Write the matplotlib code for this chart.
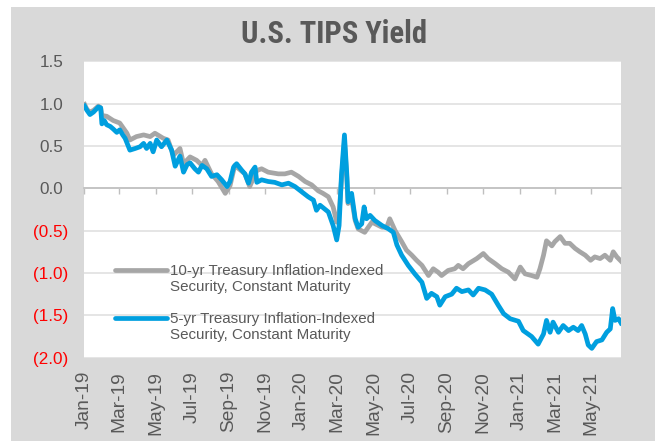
import matplotlib
matplotlib.use("Agg")
import matplotlib.pyplot as plt
import matplotlib.transforms as mtransforms
from matplotlib.patches import Rectangle
from matplotlib import font_manager
import pandas as pd

plt.rcParams['font.family'] = ['Liberation Sans', 'DejaVu Sans']

title = "U.S. TIPS Yield"
label_10yr = "10-yr Treasury Inflation-Indexed\nSecurity, Constant Maturity"
label_5yr = "5-yr Treasury Inflation-Indexed\nSecurity, Constant Maturity"

dates_5yr = [
    "2019-01-02", "2019-01-06", "2019-01-11", "2019-01-17", "2019-01-21", "2019-01-25", "2019-01-29",
    "2019-01-31", "2019-02-04", "2019-02-08", "2019-02-14", "2019-02-19", "2019-02-25", "2019-03-02",
    "2019-03-07", "2019-03-11", "2019-03-15", "2019-03-19", "2019-03-28", "2019-04-05", "2019-04-11",
    "2019-04-16", "2019-04-22", "2019-04-27", "2019-05-03", "2019-05-11", "2019-05-20", "2019-05-28",
    "2019-06-03", "2019-06-11", "2019-06-17", "2019-06-23", "2019-06-28", "2019-07-06", "2019-07-12",
    "2019-07-18", "2019-07-26", "2019-08-03", "2019-08-12", "2019-08-20", "2019-08-29", "2019-09-03",
    "2019-09-09", "2019-09-14", "2019-09-23", "2019-09-28", "2019-10-04", "2019-10-09", "2019-10-15",
    "2019-10-18", "2019-10-26", "2019-11-06", "2019-11-17", "2019-11-29", "2019-12-10", "2019-12-21",
    "2020-01-01", "2020-01-12", "2020-01-21", "2020-01-26", "2020-02-01", "2020-02-08", "2020-02-15",
    "2020-02-23", "2020-02-29", "2020-03-04", "2020-03-08", "2020-03-13", "2020-03-17", "2020-03-19",
    "2020-03-25", "2020-03-31", "2020-04-05", "2020-04-11", "2020-04-15", "2020-04-19", "2020-04-25",
    "2020-05-03", "2020-05-15", "2020-05-26", "2020-06-03", "2020-06-09", "2020-06-17", "2020-06-28",
    "2020-07-09", "2020-07-21", "2020-07-29", "2020-08-06", "2020-08-15", "2020-08-20", "2020-08-29",
    "2020-09-09", "2020-09-17", "2020-09-26", "2020-10-07", "2020-10-15", "2020-10-24", "2020-11-04",
    "2020-11-15", "2020-11-26", "2020-12-05", "2020-12-16", "2020-12-30", "2021-01-07", "2021-01-21",
    "2021-02-01", "2021-02-10", "2021-02-15", "2021-02-21", "2021-02-26", "2021-03-07", "2021-03-15",
    "2021-03-24", "2021-04-01", "2021-04-09", "2021-04-15", "2021-04-21", "2021-04-26", "2021-05-02",
    "2021-05-10", "2021-05-19", "2021-05-27", "2021-06-02", "2021-06-06", "2021-06-10", "2021-06-16",
    "2021-06-20",
]
yield_5yr = [
    0.97, 0.92, 0.87, 0.90, 0.93, 0.96, 0.95,
    0.76, 0.80, 0.75, 0.73, 0.70, 0.66, 0.69,
    0.63, 0.59, 0.52, 0.45, 0.47, 0.49, 0.53,
    0.47, 0.53, 0.43, 0.57, 0.49, 0.57, 0.45,
    0.26, 0.38, 0.19, 0.28, 0.30, 0.23, 0.19,
    0.27, 0.23, 0.14, 0.16, 0.10, 0.02, 0.08,
    0.25, 0.29, 0.21, 0.17, 0.06, 0.19, 0.25,
    0.07, 0.10, 0.08, 0.07, 0.04, 0.06, 0.02,
    -0.04, -0.10, -0.14, -0.26, -0.20, -0.24, -0.28,
    -0.44, -0.61, -0.44, 0.16, 0.63, 0.16, -0.16,
    -0.06, -0.36, -0.46, -0.42, -0.22, -0.36, -0.32,
    -0.38, -0.44, -0.48, -0.52, -0.67, -0.79, -0.91,
    -1.01, -1.11, -1.30, -1.24, -1.28, -1.38, -1.28,
    -1.25, -1.18, -1.22, -1.20, -1.26, -1.18, -1.20,
    -1.25, -1.38, -1.48, -1.54, -1.57, -1.68, -1.75,
    -1.84, -1.72, -1.56, -1.70, -1.58, -1.70, -1.62,
    -1.68, -1.64, -1.68, -1.62, -1.72, -1.85, -1.89,
    -1.81, -1.79, -1.70, -1.66, -1.42, -1.56, -1.54,
    -1.59,
]

dates_10yr = [
    "2019-01-02", "2019-01-06", "2019-01-11", "2019-01-17", "2019-01-25", "2019-01-29", "2019-01-31",
    "2019-02-08", "2019-02-19", "2019-03-02", "2019-03-14", "2019-03-19", "2019-03-30", "2019-04-11",
    "2019-04-22", "2019-04-30", "2019-05-14", "2019-05-22", "2019-05-31", "2019-06-11", "2019-06-17",
    "2019-06-28", "2019-07-09", "2019-07-18", "2019-07-23", "2019-08-03", "2019-08-14", "2019-08-26",
    "2019-09-03", "2019-09-11", "2019-09-28", "2019-10-06", "2019-10-18", "2019-10-26", "2019-11-06",
    "2019-11-23", "2019-12-04", "2019-12-15", "2019-12-27", "2020-01-07", "2020-01-18", "2020-01-29",
    "2020-02-06", "2020-02-15", "2020-02-23", "2020-02-29", "2020-03-04", "2020-03-08", "2020-03-13",
    "2020-03-17", "2020-03-19", "2020-03-25", "2020-03-31", "2020-04-05", "2020-04-16", "2020-04-28",
    "2020-05-15", "2020-05-23", "2020-05-28", "2020-06-06", "2020-06-17", "2020-06-25", "2020-07-04",
    "2020-07-12", "2020-07-21", "2020-08-01", "2020-08-09", "2020-08-17", "2020-08-23", "2020-09-03",
    "2020-09-14", "2020-09-20", "2020-09-28", "2020-10-07", "2020-10-21", "2020-11-01", "2020-11-09",
    "2020-11-21", "2020-12-02", "2020-12-13", "2020-12-24", "2021-01-02", "2021-01-10", "2021-01-21",
    "2021-01-30", "2021-02-04", "2021-02-10", "2021-02-15", "2021-02-24", "2021-03-01", "2021-03-10",
    "2021-03-18", "2021-03-26", "2021-04-04", "2021-04-12", "2021-04-21", "2021-04-30", "2021-05-07",
    "2021-05-16", "2021-05-24", "2021-06-02", "2021-06-07", "2021-06-13", "2021-06-20",
]
yield_10yr = [
    0.99, 0.93, 0.90, 0.92, 0.97, 0.95, 0.86,
    0.85, 0.80, 0.77, 0.65, 0.57, 0.61, 0.63,
    0.61, 0.65, 0.59, 0.57, 0.39, 0.47, 0.29,
    0.37, 0.33, 0.27, 0.33, 0.17, 0.08, -0.06,
    0.03, 0.27, 0.17, 0.02, 0.21, 0.23, 0.19,
    0.17, 0.17, 0.19, 0.14, 0.08, 0.04, -0.03,
    -0.06, -0.10, -0.22, -0.40, -0.30, 0.10, 0.55,
    0.12, -0.18, -0.12, -0.38, -0.48, -0.52, -0.40,
    -0.46, -0.46, -0.36, -0.50, -0.63, -0.73, -0.79,
    -0.85, -0.91, -1.03, -0.95, -0.99, -1.03, -0.97,
    -0.95, -0.91, -0.95, -0.89, -0.83, -0.77, -0.83,
    -0.89, -0.95, -0.99, -1.07, -0.93, -1.01, -1.03,
    -1.05, -0.95, -0.79, -0.62, -0.68, -0.63, -0.57,
    -0.65, -0.65, -0.71, -0.75, -0.79, -0.85, -0.81,
    -0.83, -0.79, -0.85, -0.75, -0.81, -0.86,
]

y_ticks = [1.5, 1.0, 0.5, 0.0, -0.5, -1.0, -1.5, -2.0]
y_tick_labels = ["1.5", "1.0", "0.5", "0.0", "(0.5)", "(1.0)", "(1.5)", "(2.0)"]
x_tick_labels = ["Jan-19", "Mar-19", "May-19", "Jul-19", "Sep-19", "Nov-19", "Jan-20", "Mar-20",
                 "May-20", "Jul-20", "Sep-20", "Nov-20", "Jan-21", "Mar-21", "May-21"]

TEXT = "#595959"
RED = "#ff0000"
BLUE = "#009fdf"
GRAY = "#a6a6a6"
BG = "#d9d9d9"

# pick a condensed bold face for the title if one is installed
installed = {f.name for f in font_manager.fontManager.ttflist}
title_family = [f for f in ["Roboto Condensed", "Liberation Sans Narrow", "DejaVu Sans Condensed"]
                if f in installed] + ["Liberation Sans"]
condensed = title_family[0] != "Liberation Sans"

W, H = 655, 441
fig = plt.figure(figsize=(W / 100, H / 100), dpi=100, facecolor="white")
fig.add_artist(Rectangle((11 / W, 0), 1, 1 - 7 / H, transform=fig.transFigure,
                         facecolor=BG, edgecolor="none", zorder=-10))

ax_l, ax_r, ax_t, ax_b = 84, 621, 61.2, 357.7
ax = fig.add_axes([ax_l / W, 1 - ax_b / H, (ax_r - ax_l) / W, (ax_b - ax_t) / H])
ax.set_facecolor("white")

d5 = pd.to_datetime(dates_5yr)
d10 = pd.to_datetime(dates_10yr)
ax.plot(d10, yield_10yr, color=GRAY, lw=3.4, solid_joinstyle="round", zorder=3)
ax.plot(d5, yield_5yr, color=BLUE, lw=3.4, solid_joinstyle="round", zorder=4)

ax.set_ylim(-2.0, 1.5)
ax.set_xlim(pd.Timestamp("2019-01-01"), pd.Timestamp("2021-06-20"))

# grid
ax.set_axisbelow(True)
ax.yaxis.grid(True, color="#e3e3e3", lw=1.3)
for s in ["left", "right", "top"]:
    ax.spines[s].set_visible(False)

# y ticks
ax.set_yticks(y_ticks, labels=y_tick_labels)
ax.tick_params(axis="y", length=0, pad=11.5, labelsize=12.3)
for lbl, v in zip(ax.get_yticklabels(), y_ticks):
    lbl.set_color(RED if v < 0 else TEXT)
    if v >= 0:
        lbl.set_transform(lbl.get_transform() +
                          mtransforms.ScaledTranslation(-5 / 100, 0, fig.dpi_scale_trans))

# zero axis with tick marks
tick_dates = pd.to_datetime(x_tick_labels, format="%b-%y")
ax.spines["bottom"].set_position(("data", 0))
ax.spines["bottom"].set_color("#bfbfbf")
ax.spines["bottom"].set_linewidth(1.2)
ax.spines["bottom"].set_zorder(2)
ax.set_xticks(tick_dates)
ax.tick_params(axis="x", length=4, width=1, color="#bfbfbf", direction="out", labelbottom=False)

# labels at bottom
sec = ax.secondary_xaxis("bottom")
sec.set_xticks(tick_dates, labels=x_tick_labels)
sec.tick_params(length=0, pad=9.5, labelsize=13.8, labelcolor=TEXT, labelrotation=90)
sec.spines["bottom"].set_visible(False)

# legend (manual)
def yfrac(py):
    return (ax_b - py) / (ax_b - ax_t)

def xfrac(px):
    return (px - ax_l) / (ax_r - ax_l)

for color, label, hy in [(GRAY, label_10yr, 270), (BLUE, label_5yr, 318)]:
    ax.plot([xfrac(115), xfrac(167)], [yfrac(hy), yfrac(hy)], transform=ax.transAxes,
            color=color, lw=3.4, solid_capstyle="round", zorder=5)
    ax.text(xfrac(170), yfrac(hy + 9), label, transform=ax.transAxes, ha="left", va="center",
            fontsize=10.9, color=TEXT, linespacing=1.18, zorder=5)

fig.text(334 / W, 1 - 34 / H, title, ha="center", va="center",
         fontsize=22 if condensed else 18.8,
         fontweight="bold", color=TEXT, family=title_family)

fig.savefig("out.png", dpi=100, facecolor="white")
